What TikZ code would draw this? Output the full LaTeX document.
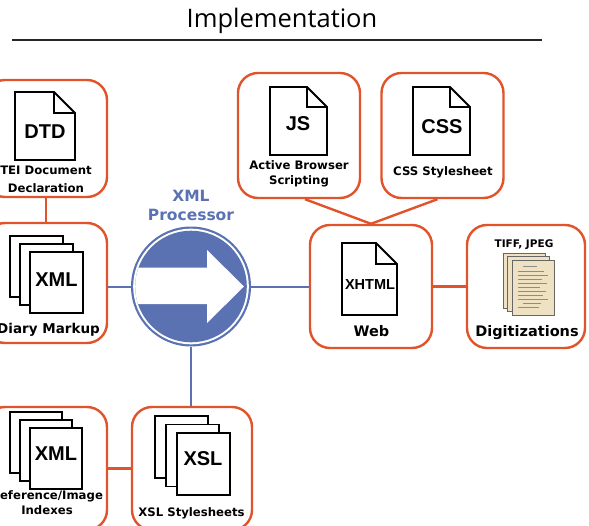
\documentclass[tikz,border=0pt]{standalone}
\usepackage{fontspec}
\newfontfamily\lblfont{DejaVu Sans}
\newfontfamily\icofont{Liberation Sans}
\newfontfamily\ttlfont{Open Sans}
\definecolor{edge}{HTML}{E0532B}
\definecolor{procblue}{HTML}{5A71B2}
\definecolor{parchment}{HTML}{EFE2C2}

\tikzset{
  card/.style={draw=edge, line width=2.4pt, rounded corners=20pt, fill=white,
    minimum width=122pt, minimum height=123pt, inner sep=0pt},
  redlink/.style={draw=edge, line width=2.4pt},
  bluelink/.style={draw=procblue, line width=2pt},
  paper/.style={draw=black, line width=1.8pt, fill=white, line join=miter},
  lbl/.style={font=\lblfont\bfseries\fontsize{11.7}{15}\selectfont, align=center, inner sep=0pt, anchor=base},
  biglbl/.style={font=\lblfont\bfseries\fontsize{14.5}{17}\selectfont, inner sep=0pt, anchor=base},
  ico/.style={font=\icofont\bfseries\fontsize{20}{20}\selectfont, inner sep=0pt, anchor=base},
}

% single sheet with a folded corner; #1,#2 top-left, #3 width, #4 height, #5 fold size
\newcommand\foldpage[5]{%
  \draw[paper] (#1,#2) -- ++(#3-#5,0) -- ++(#5,#5) -- ++(0,#4-#5) -- ++(-#3,0) -- cycle;
  \draw[paper, fill=none] (#1+#3-#5,#2) -- ++(0,#5) -- ++(#5,0);
}
% three stacked sheets; #1,#2 top-left of the rear sheet, #3 width, #4 height, #5,#6 offsets
\newcommand\sheetstack[6]{%
  \foreach \k in {0,1,2}
    \draw[paper] (#1+\k*#5, #2+\k*#6) rectangle ++(#3,#4);
}

\begin{document}
\begin{tikzpicture}[x=1pt, y=-1pt]
\useasboundingbox (0,0) rectangle (589,525);
\clip (0,0) rectangle (589,525);

% title
\node[font=\ttlfont\fontsize{25.5}{28}\selectfont, anchor=base, inner sep=0pt] (title) at (282,27) {Implementation};
\coordinate (ruleL) at (12,40);
\coordinate (ruleR) at (542,40);
\draw[line width=2.2pt, black!85] (ruleL) -- (ruleR);

% cards
\node[card, minimum height=117pt] (dtd) at (46,138.5) {};
\node[card, minimum height=120pt] (diary) at (46,283) {};
\node[card, minimum height=125pt] (js) at (299,135.5) {};
\node[card, minimum height=125pt] (css) at (442.5,135.5) {};
\node[card] (web) at (371,286.5) {};
\node[card, minimum width=118pt] (dig) at (526,286.5) {};
\node[card] (ref) at (46,468.5) {};
\node[card, minimum width=120pt] (xsl) at (192,468.5) {};

% processor
\node[circle, minimum size=120pt, inner sep=0pt] (proc) at (191,286.5) {};
\fill[procblue] (proc.center) circle[radius=60pt];
\fill[white] (proc.center) circle[radius=57.8pt];
\fill[procblue] (proc.center) circle[radius=55.8pt];
\begin{scope}
  \clip (proc.center) circle[radius=55.8pt];
  \fill[white] (120,267.5) -- (207,267.5) -- (207,250) -- (244,286.5) -- (207,323) -- (207,304) -- (120,304) -- cycle;
\end{scope}
% the base anchor of a two-line node sits on its last line
\node[font=\lblfont\bfseries\fontsize{15.5}{19}\selectfont, text=procblue, align=center, inner sep=0pt, anchor=base]
  (proclbl) at (191,220.5) {XML\\Processor};

% connectors
\draw[redlink] (dtd.south) -- (diary.north);
\draw[bluelink] (proc.west) -- (proc.west -| diary.east);
\draw[bluelink] (proc.east) -- (proc.east -| web.west);
\draw[bluelink] (proc.south) -- (proc.south |- xsl.north);
\draw[redlink] (ref.east) -- (xsl.west);
\draw[redlink] (web.east) -- (dig.west);
\draw[redlink] ([xshift=6pt]js.south) -- (web.north);
\draw[redlink] ([xshift=-5pt]css.south) -- (web.north);

% DTD
\foldpage{15}{92}{60}{68}{21}
\node[ico] (dtdtxt) at (45,138) {DTD};
\node[lbl, font=\lblfont\bfseries\fontsize{11.7}{18}\selectfont] (dtdlbl) at (46,192) {TEI Document\\Declaration};

% diary markup
\sheetstack{10}{236}{53}{61}{10}{8}
\node[ico] (diarytxt) at (56.5,286) {XML};
\node[biglbl, font=\lblfont\bfseries\fontsize{13.5}{16}\selectfont, anchor=base east] (diarylbl) at (100,333.5) {Diary Markup};

% JS
\foldpage{270}{87}{57}{68}{20}
\node[ico] (jstxt) at (298,130.5) {JS};
\node[lbl] (jslbl) at (299,184.5) {Active Browser\\Scripting};

% CSS
\foldpage{413}{87}{57}{68}{20}
\node[ico] (csstxt) at (442,133) {CSS};
\node[lbl] (csslbl) at (443,175) {CSS Stylesheet};

% web
\foldpage{342}{243}{55}{72}{21}
\node[ico, font=\icofont\bfseries\fontsize{14.5}{15}\selectfont] (webtxt) at (370,289) {XHTML};
\node[biglbl] (weblbl) at (371.5,336) {Web};

% digitizations: a small stack of handwritten leaves
\foreach \k in {0,1,2}
  \draw[draw=black!60, line width=0.8pt, fill=parchment] (503+\k*4.5, 253+\k*3.5) rectangle ++(42,55);
\foreach \yy/\xs/\len in {266/8/14, 271/3/26, 275/3/30, 279/3/24, 283/3/29, 287/3/22, 291/3/28, 295/3/25, 299/3/30, 303/8/18, 307/3/21}
  \draw[black!45, line width=0.45pt] (515+\xs,\yy) -- ++(\len,0);
\node[lbl, font=\lblfont\bfseries\fontsize{10.5}{12}\selectfont] (diglbltop) at (524,247) {TIFF, JPEG};
\node[biglbl] (diglbl) at (527,336) {Digitizations};

% reference / image indexes
\sheetstack{10}{412}{52}{61}{10}{8}
\node[ico] (reftxt) at (56,460.5) {XML};
\node[lbl] (reflbl) at (47,514.5) {Reference/Image\\Indexes};

% XSL stylesheets
\sheetstack{155}{416}{53}{62}{11}{8.5}
\node[ico] (xsltxt) at (203,465) {XSL};
\node[lbl] (xsllbl) at (191.5,516) {XSL Stylesheets};
\end{tikzpicture}
\end{document}
